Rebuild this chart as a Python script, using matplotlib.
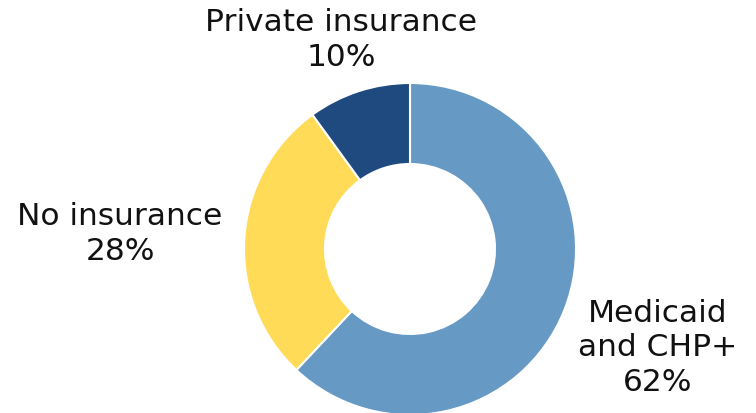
import matplotlib
matplotlib.use("Agg")
import matplotlib.pyplot as plt

categories = ["Medicaid\nand CHP+", "No insurance", "Private insurance"]
values = [62, 28, 10]
colors = ["#6699C4", "#FFDB58", "#1F4A80"]

fig = plt.figure(figsize=(7.56, 4.14), dpi=100)
ax = fig.add_axes([0, 0, 1, 1])

cx, cy, R = 410, 164, 166
ax.pie(values, colors=colors, startangle=90, counterclock=False,
       center=(cx, cy), radius=R,
       wedgeprops=dict(width=R - 85, edgecolor="white", linewidth=1.5))
ax.set_xlim(0, 756)
ax.set_ylim(0, 414)
ax.set_aspect("equal")
ax.axis("off")

font = dict(fontsize=22.5, family="DejaVu Sans", color="#111111", ha="center",
            va="center", linespacing=1.22)
label_pos = [(658, 66), (120, 180), (341, 374)]
for cat, v, (x, y) in zip(categories, values, label_pos):
    ax.text(x, y, f"{cat}\n{v}%", **font)

fig.savefig("out.png", dpi=100)
